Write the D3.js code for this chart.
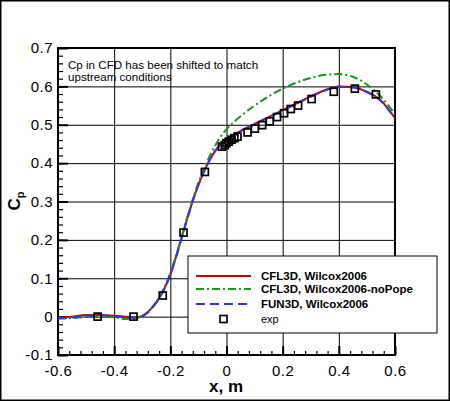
<!DOCTYPE html>
<html lang="en">
<head>
    <meta charset="UTF-8">
    <title>Cp distribution</title>
    <script src="https://d3js.org/d3.v7.min.js"></script>
    <style>
        body { margin: 0; background: #fff; }
        svg text { font-family: "Liberation Sans", Arial, Helvetica, sans-serif; }
    </style>
</head>
<body>
    <div id="chart"></div>
    <script>
        // CFD surface stations (m) and Cp for each run
        const xCfd = [-0.6, -0.55, -0.5, -0.45, -0.4, -0.36, -0.32, -0.3, -0.28, -0.26, -0.24, -0.22, -0.2, -0.18,
            -0.16, -0.14, -0.12, -0.1, -0.08, -0.06, -0.04, -0.02, 0, 0.05, 0.1, 0.15, 0.2, 0.25, 0.3, 0.35,
            0.4, 0.45, 0.5, 0.55, 0.6];
        const cpCfl3d = [-0.003, 0.0, 0.004, 0.004, 0.002, 0.0, -0.002, 0.002, 0.012, 0.028, 0.048, 0.075, 0.11, 0.155,
            0.205, 0.255, 0.302, 0.343, 0.378, 0.408, 0.432, 0.45, 0.462, 0.484, 0.502, 0.52, 0.538, 0.556, 0.574, 0.59,
            0.6, 0.598, 0.586, 0.563, 0.517];
        const cpNoPope = [-0.005, -0.004, -0.001, 0.0, -0.002, -0.006, -0.004, 0.001, 0.012, 0.029, 0.05, 0.078, 0.113, 0.158,
            0.208, 0.258, 0.306, 0.349, 0.386, 0.418, 0.446, 0.47, 0.488, 0.522, 0.55, 0.574, 0.594, 0.61, 0.622, 0.63,
            0.632, 0.625, 0.605, 0.573, 0.528];
        const cpFun3d = [-0.004, -0.002, 0.002, 0.003, 0.001, -0.002, -0.003, 0.001, 0.011, 0.027, 0.047, 0.074, 0.109, 0.154,
            0.204, 0.254, 0.302, 0.343, 0.378, 0.408, 0.432, 0.45, 0.461, 0.483, 0.501, 0.519, 0.537, 0.555, 0.573, 0.589,
            0.599, 0.597, 0.585, 0.562, 0.516];

        // experiment
        const xExp = [-0.459, -0.331, -0.227, -0.153, -0.077, -0.016, -0.006, 0.0, 0.008, 0.018, 0.028, 0.039, 0.075,
            0.101, 0.127, 0.154, 0.18, 0.205, 0.229, 0.255, 0.303, 0.382, 0.457, 0.532];
        const cpExp = [0.0, 0.0, 0.055, 0.219, 0.377, 0.443, 0.447, 0.452, 0.456, 0.461, 0.465, 0.469, 0.48,
            0.49, 0.499, 0.509, 0.52, 0.53, 0.541, 0.55, 0.567, 0.586, 0.594, 0.579];

        const xTicks = [-0.6, -0.4, -0.2, 0, 0.2, 0.4, 0.6];
        const yTicks = [-0.1, 0, 0.1, 0.2, 0.3, 0.4, 0.5, 0.6, 0.7];
        const seriesNames = ["CFL3D, Wilcox2006", "CFL3D, Wilcox2006-noPope", "FUN3D, Wilcox2006"];

        const svg = d3.select("#chart").append("svg")
            .attr("width", 450)
            .attr("height", 401);

        // outer frame
        svg.append("rect")
            .attr("x", 0.75).attr("y", 0.75)
            .attr("width", 448.5).attr("height", 399.5)
            .attr("fill", "none").attr("stroke", "#000").attr("stroke-width", 1.5);

        const margin = {top: 48, left: 58},
              width = 337,
              height = 307,
              g = svg.append("g").attr("transform", `translate(${margin.left},${margin.top})`);

        const x = d3.scaleLinear().domain([-0.6, 0.6]).range([0, width]);
        const y = d3.scaleLinear().domain([-0.1, 0.7]).range([height, 0]);
        const fmt = d => String(+d.toFixed(1));

        // grid
        g.append("g")
            .attr("transform", `translate(0,${height})`)
            .call(d3.axisBottom(x).tickValues(xTicks).tickSize(-height).tickFormat(""))
            .call(a => a.select(".domain").remove())
            .selectAll("line").attr("stroke", "#000").attr("stroke-width", 1);
        g.append("g")
            .call(d3.axisLeft(y).tickValues(yTicks).tickSize(-width).tickFormat(""))
            .call(a => a.select(".domain").remove())
            .selectAll("line").attr("stroke", "#000").attr("stroke-width", 1);

        // minor ticks (inward)
        const xMinor = d3.range(-0.6, 0.6001, 0.04).map(v => +v.toFixed(2));
        const yMinor = d3.range(-0.1, 0.7001, 0.02).map(v => +v.toFixed(2));
        g.append("g")
            .attr("transform", `translate(0,${height})`)
            .call(d3.axisBottom(x).tickValues(xMinor).tickSize(-4).tickFormat(""))
            .call(a => a.select(".domain").remove())
            .selectAll("line").attr("stroke", "#000").attr("stroke-width", 1.2);
        g.append("g")
            .call(d3.axisLeft(y).tickValues(yMinor).tickSize(-5).tickFormat(""))
            .call(a => a.select(".domain").remove())
            .selectAll("line").attr("stroke", "#000").attr("stroke-width", 1.2);
        g.append("g")
            .attr("transform", `translate(0,${height})`)
            .call(d3.axisBottom(x).tickValues(xTicks).tickSize(-9).tickFormat(""))
            .call(a => a.select(".domain").remove())
            .selectAll("line").attr("stroke", "#000").attr("stroke-width", 2);
        g.append("g")
            .call(d3.axisLeft(y).tickValues(yTicks).tickSize(-10).tickFormat(""))
            .call(a => a.select(".domain").remove())
            .selectAll("line").attr("stroke", "#000").attr("stroke-width", 2);

        // tick labels
        g.append("g")
            .attr("transform", `translate(0,${height})`)
            .call(d3.axisBottom(x).tickValues(xTicks).tickSize(0).tickPadding(10).tickFormat(fmt))
            .call(a => a.select(".domain").remove())
            .selectAll("text").attr("fill", "#000").style("font-size", "15px").style("letter-spacing", "0.5px");
        g.append("g")
            .call(d3.axisLeft(y).tickValues(yTicks).tickSize(0).tickPadding(5).tickFormat(fmt))
            .call(a => a.select(".domain").remove())
            .selectAll("text").attr("fill", "#000").style("font-size", "15px").style("letter-spacing", "0.5px");

        // plot frame
        g.append("rect")
            .attr("width", width).attr("height", height)
            .attr("fill", "none").attr("stroke", "#000").attr("stroke-width", 2);

        // annotation
        const note = g.append("text").attr("x", 10).attr("y", 21).style("font-size", "11.6px").attr("fill", "#000");
        note.append("tspan").attr("x", 10).text("Cp in CFD has been shifted to match");
        note.append("tspan").attr("x", 10).attr("dy", 12).text("upstream conditions");

        // curves
        g.append("clipPath").attr("id", "clip")
            .append("rect").attr("width", width).attr("height", height);

        const series = [
            {name: seriesNames[0], values: cpCfl3d, color: "#cc0000", dash: null},
            {name: seriesNames[1], values: cpNoPope, color: "#119911", dash: "8,3,2,3"},
            {name: seriesNames[2], values: cpFun3d, color: "#3333ee", dash: "9,5"}
        ];

        const line = d3.line()
            .x(d => x(d[0]))
            .y(d => y(d[1]))
            .curve(d3.curveMonotoneX);

        g.append("g").attr("clip-path", "url(#clip)")
            .selectAll("path")
            .data(series)
            .enter().append("path")
                .attr("d", s => line(xCfd.map((v, i) => [v, s.values[i]])))
                .attr("fill", "none")
                .attr("stroke", s => s.color)
                .attr("stroke-width", 2)
                .attr("stroke-dasharray", s => s.dash);

        // experiment squares
        const sq = 7;
        g.selectAll(".exp")
            .data(xExp.map((v, i) => [v, cpExp[i]]))
            .enter().append("rect")
                .attr("class", "exp")
                .attr("x", d => x(d[0]) - sq / 2)
                .attr("y", d => y(d[1]) - sq / 2)
                .attr("width", sq).attr("height", sq)
                .attr("fill", "none")
                .attr("stroke", "#000")
                .attr("stroke-width", 1.7);

        // axis titles
        svg.append("text")
            .attr("x", 226).attr("y", 392)
            .attr("text-anchor", "middle")
            .style("font-size", "17px").style("font-weight", "bold")
            .text("x, m");

        const yTitle = svg.append("text")
            .attr("transform", "translate(20,201) rotate(-90)")
            .attr("text-anchor", "middle")
            .style("font-size", "17px").style("font-weight", "bold");
        yTitle.append("tspan").text("C");
        yTitle.append("tspan").attr("dy", 4).style("font-size", "11px").text("p");

        // legend
        const legend = svg.append("g").attr("transform", "translate(188,256)");
        legend.append("rect")
            .attr("width", 249).attr("height", 77)
            .attr("fill", "#fff").attr("stroke", "#000").attr("stroke-width", 1);

        const rowY = [20, 33, 48, 63];
        series.forEach((s, i) => {
            legend.append("line")
                .attr("x1", 8).attr("x2", 63)
                .attr("y1", rowY[i]).attr("y2", rowY[i])
                .attr("stroke", s.color).attr("stroke-width", 2)
                .attr("stroke-dasharray", s.dash);
            legend.append("text")
                .attr("x", 73).attr("y", rowY[i] + 4)
                .style("font-size", "11.5px").style("font-weight", "bold")
                .text(s.name);
        });
        legend.append("rect")
            .attr("x", 35.5 - sq / 2).attr("y", rowY[3] - sq / 2)
            .attr("width", sq).attr("height", sq)
            .attr("fill", "none").attr("stroke", "#000").attr("stroke-width", 1.7);
        legend.append("text")
            .attr("x", 73).attr("y", rowY[3] + 4)
            .style("font-size", "11px")
            .text("exp");
    </script>
</body>
</html>
